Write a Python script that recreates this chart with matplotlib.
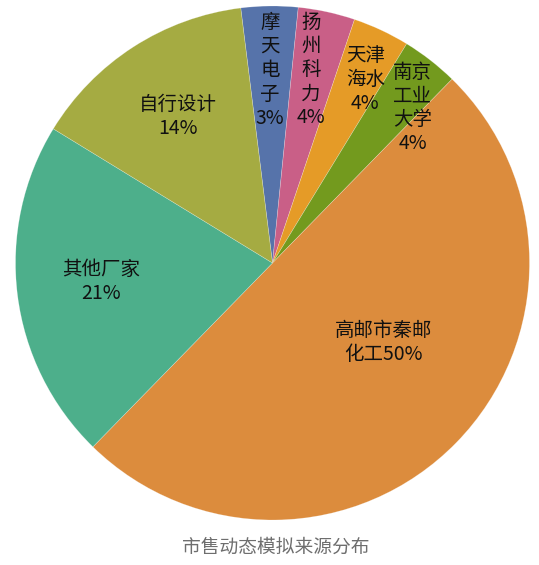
import numpy as np
import matplotlib.pyplot as plt

plt.rcParams['font.family'] = ['Noto Sans CJK SC', 'DejaVu Sans']

names = ["摩\n天\n电\n子", "扬\n州\n科\n力", "天津\n海水", "南京\n工业\n大学",
         "高邮市秦邮\n化工", "其他厂家\n", "自行设计\n"]
values = [1, 1, 1, 1, 14, 6, 4]
pct_labels = ["3%", "4%", "4%", "4%", "50%", "21%", "14%"]
colors = ["#5673aa", "#c95f87", "#e59b27", "#739a1e", "#dc8c3d", "#4daf8b", "#a5ab42"]
title = "市售动态模拟来源分布"

# label placement (fraction of radius, angle shift in degrees)
label_r = [0.75, 0.766, 0.80, 0.813, 0.53, 0.67, 0.68]
label_shift = [0, 0.9, -1.8, -4.2, 8.7, -1, 0]

W, H = 539, 565
cx, cy, R = 272.5, H - 263, 257

fig = plt.figure(figsize=(W / 100, H / 100), dpi=100)
ax = fig.add_axes([0, 0, 1, 1])

wedges, _ = ax.pie(values, colors=colors, startangle=97.1, counterclock=False,
                   center=(cx, cy), radius=R, frame=True,
                   wedgeprops=dict(edgecolor=(1, 1, 1, 0.35), linewidth=0.4))
ax.set_xlim(0, W)
ax.set_ylim(0, H)
ax.axis('off')

for w, name, pct, fr, sh in zip(wedges, names, pct_labels, label_r, label_shift):
    mid = np.deg2rad((w.theta1 + w.theta2) / 2 + sh)
    x = cx + fr * R * np.cos(mid)
    y = cy + fr * R * np.sin(mid)
    sep = "" if name.endswith("\n") or name.startswith("高邮") else "\n"
    ax.text(x, y, name + sep + pct, ha='center', va='center', fontsize=14,
            color='#111111', linespacing=1.18)

ax.text(W / 2 + 6, H - 547, title, ha='center', va='center', fontsize=13.5,
        color='#6e6e6e')

fig.savefig("out.png", dpi=100)
